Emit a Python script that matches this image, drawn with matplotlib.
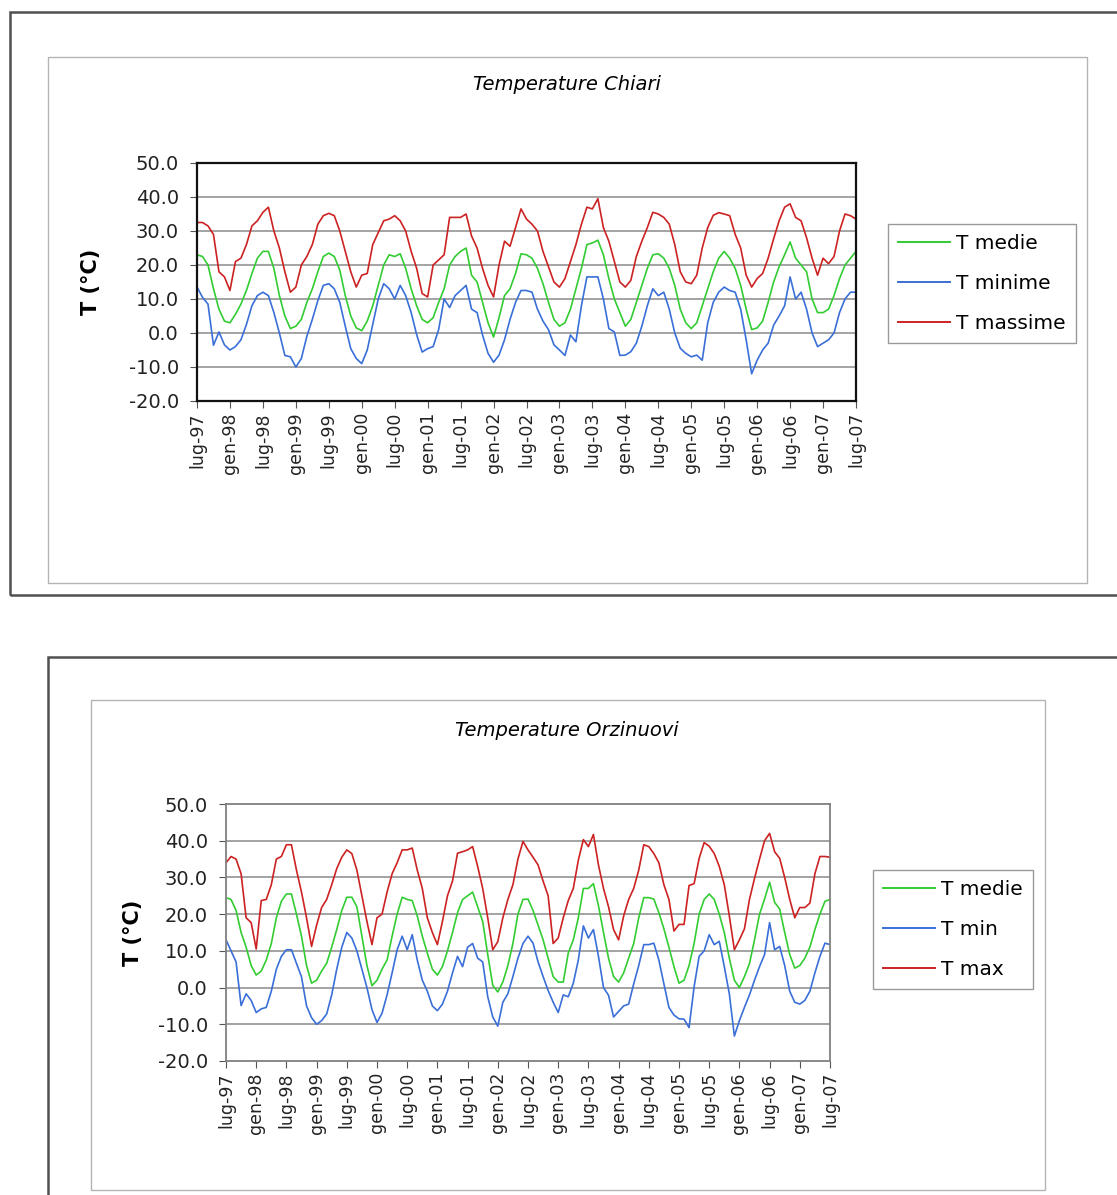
import numpy as np
import matplotlib
matplotlib.use("Agg")
import matplotlib.pyplot as plt
from matplotlib.patches import Rectangle
from matplotlib.lines import Line2D

plt.rcParams['font.family'] = ['DejaVu Sans']
plt.rcParams['axes.unicode_minus'] = False

# mesi da lug-97 a lug-07 (121 valori mensili)
tick_labels = ["lug-97", "gen-98", "lug-98", "gen-99", "lug-99", "gen-00", "lug-00",
               "gen-01", "lug-01", "gen-02", "lug-02", "gen-03", "lug-03", "gen-04",
               "lug-04", "gen-05", "lug-05", "gen-06", "lug-06", "gen-07", "lug-07"]

# ---- Chiari ----
tmed_chiari = [
    23.0, 22.5, 20.0, 13.0, 7.0, 3.5,
    3.0, 5.5, 8.5, 12.5, 17.5, 22.0, 24.0, 24.0, 19.0, 11.0, 5.0, 1.3,
    2.0, 4.0, 9.0, 13.0, 18.0, 22.5, 23.5, 22.5, 18.5, 11.0, 5.0, 1.5,
    0.7, 3.5, 8.0, 14.0, 20.0, 23.0, 22.5, 23.3, 19.0, 13.0, 8.0, 4.0,
    3.0, 4.5, 9.0, 13.0, 20.0, 22.5, 24.0, 25.0, 17.0, 15.0, 9.0, 3.0,
    -1.2, 4.5, 11.0, 13.0, 17.5, 23.3, 23.0, 22.0, 19.0, 14.5, 9.0, 4.0,
    2.0, 3.0, 7.0, 13.0, 19.0, 26.0, 26.5, 27.3, 23.0, 16.0, 10.0, 6.0,
    2.0, 4.0, 9.0, 14.0, 19.0, 23.0, 23.3, 22.0, 19.0, 14.0, 7.0, 3.0,
    1.3, 3.0, 8.0, 13.0, 18.0, 22.0, 24.0, 22.0, 19.0, 14.0, 7.0, 1.0,
    1.5, 3.5, 9.0, 15.0, 19.5, 23.0, 26.8, 22.0, 20.0, 18.0, 10.0, 6.0,
    6.0, 7.0, 11.0, 16.0, 20.0, 22.0, 24.0]
tmin_chiari = [
    13.5, 10.5, 8.5, -3.6, 0.3, -3.5,
    -5.0, -4.0, -2.0, 2.5, 8.0, 11.0, 12.0, 11.0, 6.0, 0.0, -6.6, -7.0,
    -10.0, -7.5, -1.0, 4.0, 9.5, 14.0, 14.5, 13.0, 9.0, 2.0, -4.6, -7.5,
    -9.0, -5.0, 2.5, 10.0, 14.5, 13.0, 10.0, 14.0, 11.0, 6.0, -0.5, -5.6,
    -4.6, -4.0, 1.0, 10.0, 7.5, 11.0, 12.5, 14.0, 7.0, 6.0, -0.6, -6.0,
    -8.6, -6.5, -2.0, 4.0, 9.0, 12.5, 12.5, 12.0, 7.0, 3.5, 1.0, -3.5,
    -5.0, -6.6, -0.6, -2.6, 8.0, 16.5, 16.5, 16.5, 10.0, 1.3, 0.3, -6.6,
    -6.5, -5.5, -3.0, 2.0, 8.0, 13.0, 11.0, 12.0, 7.0, 0.0, -4.5, -6.0,
    -7.0, -6.5, -8.0, 3.0, 9.0, 12.0, 13.5, 12.5, 12.0, 7.0, -2.0, -12.0,
    -8.0, -5.0, -3.0, 2.3, 5.0, 8.0, 16.5, 10.0, 12.0, 7.0, 0.0, -4.0,
    -3.0, -2.0, 0.0, 6.0, 10.0, 12.0, 12.0]
tmax_chiari = [
    32.5, 32.5, 31.5, 29.0, 18.0, 16.5,
    12.5, 21.0, 22.0, 26.0, 31.5, 33.0, 35.5, 37.0, 30.0, 25.0, 18.0, 12.0,
    13.5, 20.0, 22.5, 26.0, 32.0, 34.5, 35.2, 34.5, 30.0, 24.0, 18.0, 13.5,
    17.0, 17.5, 26.0, 29.5, 33.0, 33.5, 34.5, 33.0, 30.0, 24.0, 19.0, 11.6,
    10.6, 20.0, 21.5, 23.0, 34.0, 34.0, 34.0, 35.0, 28.5, 25.0, 19.0, 14.0,
    10.6, 20.0, 27.0, 25.5, 31.0, 36.5, 33.5, 32.0, 30.0, 24.0, 19.5, 15.0,
    13.5, 16.0, 21.0, 26.0, 32.0, 37.0, 36.5, 39.5, 31.0, 27.0, 21.0, 15.0,
    13.5, 15.5, 22.5, 27.0, 31.0, 35.5, 35.0, 34.0, 32.0, 26.0, 18.0, 15.0,
    14.5, 17.0, 25.0, 31.0, 34.6, 35.4, 35.0, 34.5, 29.0, 25.0, 17.0, 13.5,
    16.0, 17.5, 22.0, 27.7, 33.0, 37.0, 38.0, 34.0, 33.0, 28.0, 22.0, 17.0,
    22.0, 20.4, 22.5, 30.0, 35.0, 34.5, 33.5]

# ---- Orzinuovi ----
tmed_orzi = [
    24.5, 24.0, 21.0, 15.0, 11.0, 6.0,
    3.4, 4.5, 7.5, 12.0, 19.0, 23.5, 25.5, 25.5, 20.0, 14.0, 6.0, 1.2,
    2.0, 4.5, 6.6, 11.0, 15.8, 21.0, 24.6, 24.6, 22.0, 14.0, 6.0, 0.5,
    2.0, 5.0, 7.5, 14.0, 20.0, 24.6, 24.0, 23.7, 19.5, 14.0, 9.4, 5.0,
    3.4, 5.7, 10.0, 15.0, 20.4, 24.0, 25.0, 26.0, 22.0, 18.0, 9.0, 0.6,
    -1.2, 1.5, 6.0, 12.0, 20.0, 24.0, 24.1, 21.0, 17.0, 13.0, 8.0, 3.0,
    1.5, 1.5, 9.4, 13.0, 19.0, 27.0, 27.0, 28.3, 22.3, 15.0, 8.0, 3.0,
    1.5, 4.0, 8.0, 12.0, 19.0, 24.5, 24.5, 24.1, 20.4, 16.0, 11.0, 5.7,
    1.2, 2.0, 6.0, 12.0, 20.0, 24.0, 25.5, 24.0, 20.0, 15.0, 8.0, 2.0,
    0.0, 3.0, 6.5, 13.0, 20.0, 24.1, 28.7, 23.2, 21.4, 15.0, 9.0, 5.3,
    6.0, 8.0, 11.0, 15.8, 20.0, 23.5, 24.0]
tmin_orzi = [
    13.0, 10.0, 7.0, -4.9, -1.7, -3.5,
    -6.8, -5.8, -5.4, -1.0, 5.0, 8.5, 10.3, 10.3, 6.6, 2.9, -5.0, -8.2,
    -10.0, -9.0, -7.2, -2.0, 5.0, 11.0, 15.0, 13.5, 10.0, 5.0, 0.0, -6.0,
    -9.5, -7.0, -2.0, 4.0, 10.3, 14.0, 10.3, 14.4, 7.5, 2.0, -1.0, -5.0,
    -6.3, -4.5, -1.0, 4.0, 8.5, 5.7, 11.0, 12.0, 8.0, 7.0, -2.5, -8.0,
    -10.5, -4.0, -1.7, 3.0, 8.0, 12.0, 14.0, 12.1, 7.0, 3.0, -0.8, -4.0,
    -6.8, -2.0, -2.5, 1.2, 7.5, 16.8, 13.5, 15.8, 8.5, 0.0, -2.1, -8.0,
    -6.5, -5.0, -4.5, 1.0, 6.0, 11.7, 11.7, 12.1, 7.5, 1.0, -5.4, -7.5,
    -8.5, -8.6, -10.9, 0.2, 8.5, 10.0, 14.4, 11.7, 12.6, 5.7, -1.7, -13.2,
    -9.0, -5.4, -2.0, 2.0, 5.7, 9.0, 17.7, 10.3, 11.2, 6.0, -1.0, -4.0,
    -4.5, -3.5, -1.0, 4.0, 8.5, 12.1, 11.7]
tmax_orzi = [
    34.0, 35.7, 35.0, 31.0, 19.0, 17.7,
    10.5, 23.7, 24.0, 28.0, 35.0, 35.7, 38.9, 38.9, 32.0, 26.0, 19.0, 11.2,
    17.0, 21.8, 24.0, 28.0, 32.4, 35.5, 37.5, 36.5, 32.0, 25.0, 18.0, 11.7,
    19.0, 20.0, 26.0, 31.0, 34.0, 37.5, 37.5, 38.0, 32.0, 27.0, 19.0, 15.0,
    11.7, 18.0, 25.0, 29.0, 36.6, 37.0, 37.5, 38.4, 33.0, 27.0, 19.0, 10.3,
    12.5, 19.0, 24.0, 28.0, 35.0, 39.8, 37.5, 35.5, 33.4, 29.0, 25.0, 12.0,
    13.5, 19.0, 23.7, 27.0, 34.7, 40.3, 38.4, 41.7, 33.4, 27.0, 22.0, 15.8,
    13.0, 19.5, 24.0, 27.0, 32.0, 38.9, 38.4, 36.5, 34.0, 28.0, 24.0, 15.4,
    17.2, 17.2, 27.8, 28.3, 35.2, 39.5, 38.5, 36.5, 33.0, 28.0, 19.5, 10.3,
    13.0, 16.0, 24.0, 29.7, 35.0, 40.0, 42.0, 37.0, 35.2, 30.0, 24.0, 19.0,
    21.8, 21.8, 23.0, 31.0, 35.7, 35.7, 35.5]

W, H = 1117, 1195
fig = plt.figure(figsize=(W / 100, H / 100), dpi=100)
fig.patch.set_facecolor('white')

def box(x0, y0, x1, y1, **kw):
    # rettangolo in pixel (origine in alto a sinistra)
    r = Rectangle((x0 / W, 1 - y1 / H), (x1 - x0) / W, (y1 - y0) / H,
                  transform=fig.transFigure, fill=False, **kw)
    fig.add_artist(r)

def axes_px(x0, y0, x1, y1):
    return fig.add_axes([x0 / W, 1 - y1 / H, (x1 - x0) / W, (y1 - y0) / H])

green, blue, red = '#33cc33', '#3a6fd8', '#cc2222'

def draw(ax, tmed, tmin, tmax, spine_col, spine_lw):
    x = np.arange(len(tmed))
    ax.plot(x, tmed, color=green, lw=1.2)
    ax.plot(x, tmin, color=blue, lw=1.2)
    ax.plot(x, tmax, color=red, lw=1.2)
    ax.set_xlim(0, len(tmed) - 1)
    ax.set_ylim(-20, 50)
    yt = np.arange(-20, 51, 10)
    ax.set_yticks(yt)
    ax.set_yticklabels([f"{v:.1f}" for v in yt])
    ax.set_xticks(np.arange(0, len(tmed), 6))
    ax.set_xticklabels(tick_labels)
    for v in yt[1:-1]:
        ax.axhline(v, color='#8a8a8a', lw=1.1, zorder=0)
    for s in ax.spines.values():
        s.set_color(spine_col)
        s.set_linewidth(spine_lw)
    ax.tick_params(axis='y', direction='out', length=5, pad=8, labelsize=14,
                   color='#555555', labelcolor='#222222')
    ax.tick_params(axis='x', direction='out', length=5, pad=3, labelsize=12.5,
                   labelrotation=90, color='#555555', labelcolor='#222222')
    ax.set_ylabel("T (°C)", fontsize=15, fontweight='bold')

def legend(labels, x, y):
    h = [Line2D([], [], color=c, lw=1.4) for c in (green, blue, red)]
    leg = fig.legend(h, labels, loc='upper left',
                     bbox_to_anchor=(x / W, 1 - y / H), bbox_transform=fig.transFigure,
                     fontsize=14.5, frameon=True, fancybox=False, edgecolor='#808080',
                     borderaxespad=0, handlelength=2.6, handletextpad=0.3,
                     labelspacing=1.05, borderpad=0.5)
    leg.get_frame().set_linewidth(1.0)

# ---------- grafico Chiari ----------
box(10, 12, 1140, 595, edgecolor='#505050', lw=1.8)
box(48, 57, 1087, 583, edgecolor='#b4b4b4', lw=1.0)
ax1 = axes_px(197, 163, 856, 401)
draw(ax1, tmed_chiari, tmin_chiari, tmax_chiari, '#111111', 1.6)
ax1.yaxis.set_label_coords(-0.145, 0.5)
fig.text(567 / W, 1 - 85 / H, "Temperature Chiari", ha='center', va='center',
         fontsize=14, style='italic')
legend(["T medie", "T minime", "T massime"], 888, 224)

# ---------- grafico Orzinuovi ----------
box(48, 657, 1140, 1250, edgecolor='#505050', lw=1.8)
box(91, 700, 1045, 1190, edgecolor='#b4b4b4', lw=1.0)
ax2 = axes_px(226, 804, 830, 1061)
draw(ax2, tmed_orzi, tmin_orzi, tmax_orzi, '#808080', 1.3)
ax2.yaxis.set_label_coords(-0.137, 0.5)
fig.text(567 / W, 1 - 730 / H, "Temperature Orzinuovi", ha='center', va='center',
         fontsize=14, style='italic')
legend(["T medie", "T min", "T max"], 873, 870)

fig.savefig("out.png", dpi=100)
